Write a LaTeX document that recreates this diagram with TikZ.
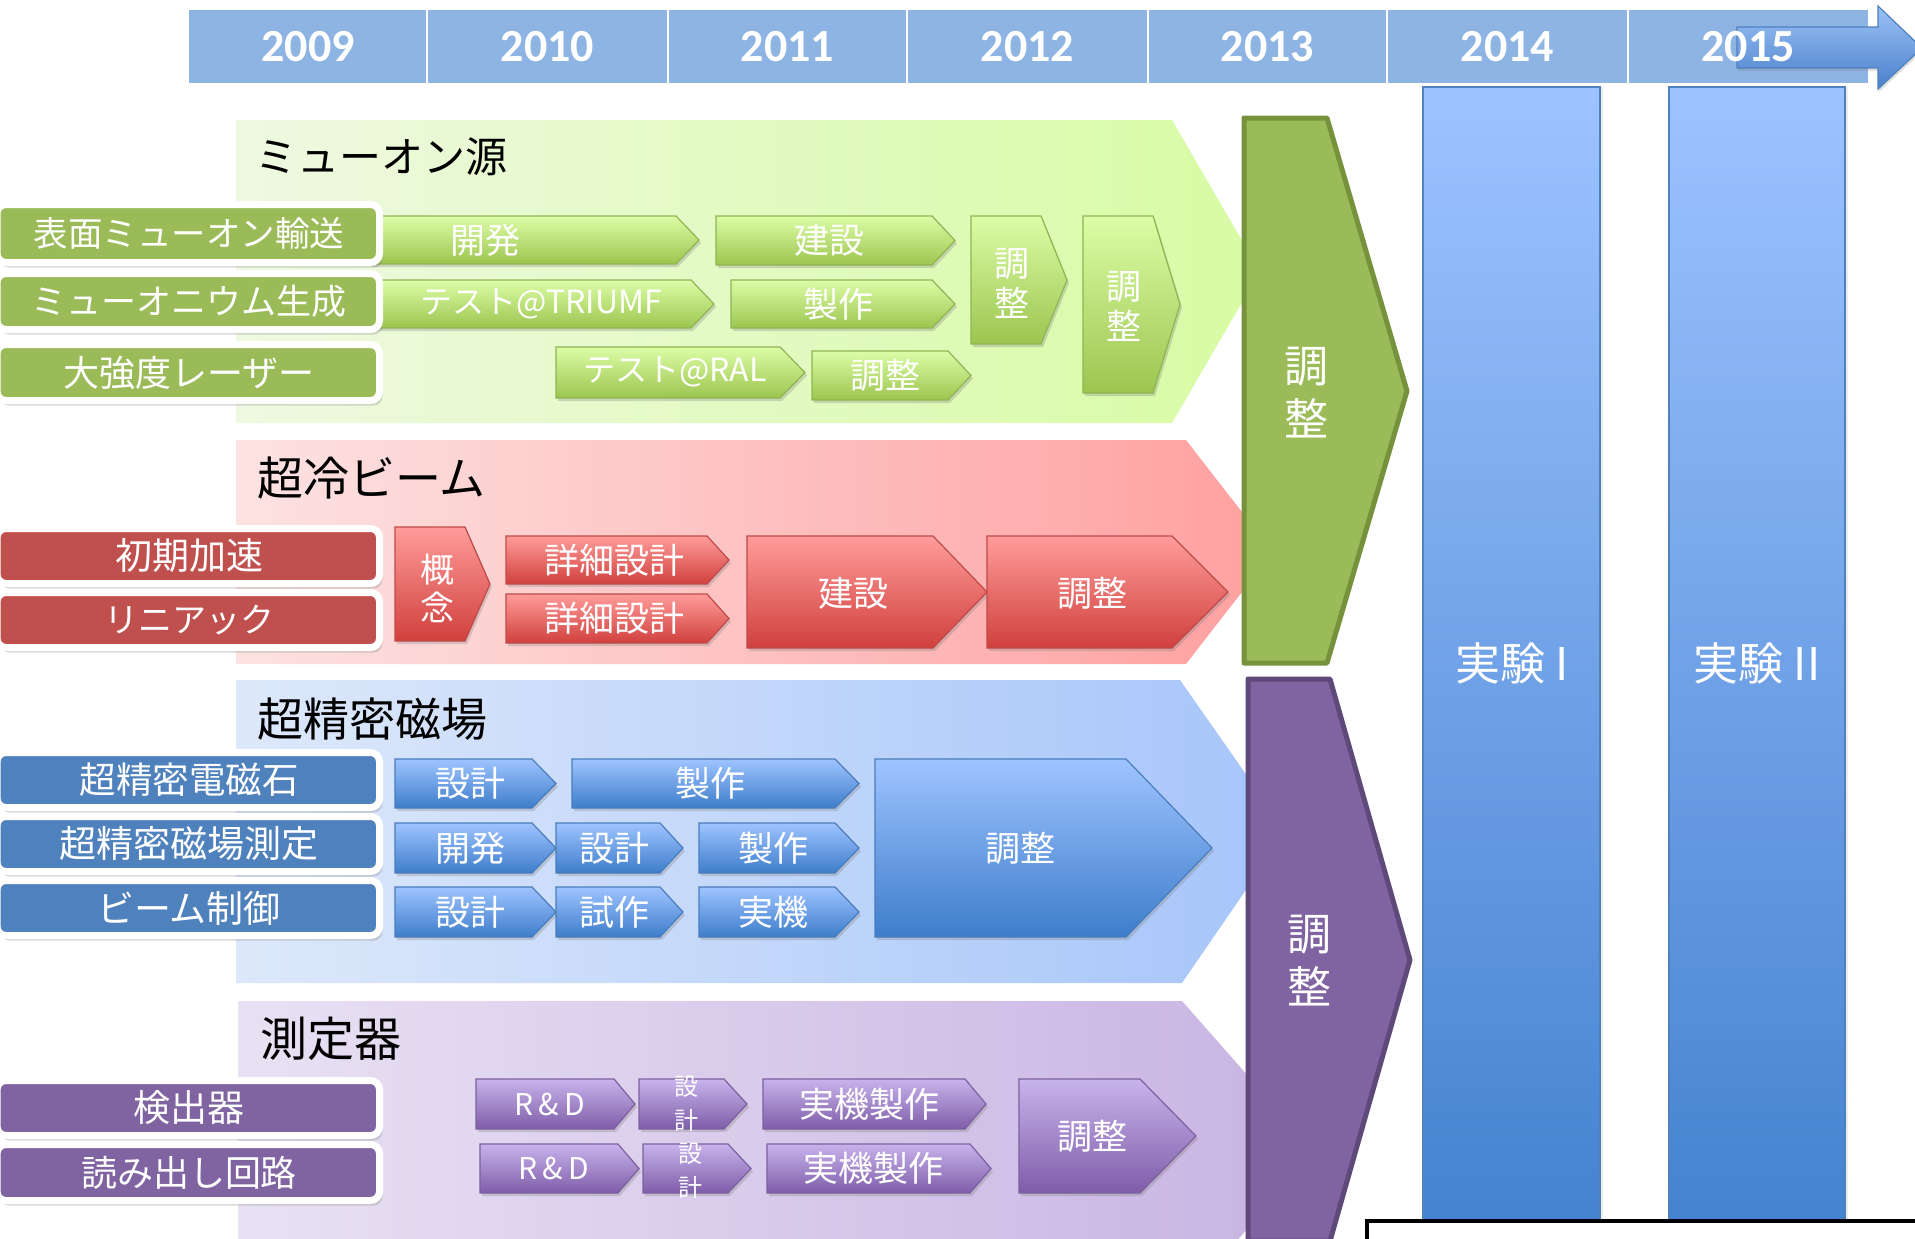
\documentclass[tikz,border=0pt]{standalone}
\usepackage{fontspec}
\setmainfont{Noto Sans CJK JP}
\newfontfamily\yearfont{Carlito}
\usetikzlibrary{shadows}
\definecolor{hdr}{HTML}{8EB4E3}
\definecolor{arrT}{HTML}{9CC2F5}
\definecolor{arrB}{HTML}{4A80CC}
\definecolor{arrD}{HTML}{4F81BD}
\definecolor{bgG1}{HTML}{EEF9E1}
\definecolor{bgG2}{HTML}{D8FBA4}
\definecolor{bgR1}{HTML}{FDE2E2}
\definecolor{bgR2}{HTML}{FFA0A0}
\definecolor{bgB1}{HTML}{DDE8FA}
\definecolor{bgB2}{HTML}{A6C5FA}
\definecolor{bgP1}{HTML}{E8E1F3}
\definecolor{bgP2}{HTML}{C8B3E2}
\definecolor{accG}{HTML}{9BBB59}
\definecolor{accGd}{HTML}{76923C}
\definecolor{accR}{HTML}{C0504D}
\definecolor{accB}{HTML}{4F81BD}
\definecolor{accP}{HTML}{8064A2}
\definecolor{accPd}{HTML}{5F497A}
\definecolor{cG1}{HTML}{DCFDA6}
\definecolor{cG2}{HTML}{9CC54F}
\definecolor{cGb}{HTML}{8FB553}
\definecolor{cR1}{HTML}{FF9C9A}
\definecolor{cR2}{HTML}{D0403D}
\definecolor{cRb}{HTML}{BE4B48}
\definecolor{cB1}{HTML}{9EC4FF}
\definecolor{cB2}{HTML}{3E7DCB}
\definecolor{cBb}{HTML}{4A7DBB}
\definecolor{cP1}{HTML}{C8B3EC}
\definecolor{cP2}{HTML}{7E5DA8}
\definecolor{cPb}{HTML}{7D60A0}
\definecolor{colT}{HTML}{9DC3FF}
\definecolor{colB}{HTML}{4280CF}
\tikzset{
  bandG/.style={left color=bgG1,right color=bgG2},
  bandR/.style={left color=bgR1,right color=bgR2},
  bandB/.style={left color=bgB1,right color=bgB2},
  bandP/.style={left color=bgP1,right color=bgP2},
  chevbase/.style={line width=1.2pt,line join=miter,
    drop shadow={shadow xshift=2pt,shadow yshift=-3pt,opacity=.3}},
  chevG/.style={chevbase,top color=cG1,bottom color=cG2,draw=cGb},
  chevR/.style={chevbase,top color=cR1,bottom color=cR2,draw=cRb},
  chevB/.style={chevbase,top color=cB1,bottom color=cB2,draw=cBb},
  chevP/.style={chevbase,top color=cP1,bottom color=cP2,draw=cPb},
  lblbox/.style={draw=white,line width=7pt,rounded corners=9pt,
    drop shadow={shadow xshift=3pt,shadow yshift=-5pt,opacity=.3}},
  lbltext/.style={text=white,inner sep=0pt},
  tasktext/.style={text=white,font=\fontsize{35}{40}\selectfont,inner sep=0pt,align=center},
  smalltext/.style={text=white,font=\fontsize{24}{34}\selectfont,inner sep=0pt,align=center},
  bigtext/.style={text=white,font=\fontsize{44}{53}\selectfont,inner sep=0pt,align=center},
  titletext/.style={text=black,font=\fontsize{46}{50}\selectfont,inner sep=0pt,anchor=west},
  yeartext/.style={text=white,font=\yearfont\bfseries\fontsize{46}{50}\selectfont,inner sep=0pt},
  bigarrowG/.style={fill=accG,draw=accGd,line width=5pt,line join=round},
  bigarrowP/.style={fill=accP,draw=accPd,line width=5pt,line join=round},
  expcol/.style={top color=colT,bottom color=colB,draw=accB,line width=1.2pt,
    drop shadow={shadow xshift=3pt,shadow yshift=0pt,opacity=.15}},
  toparrow/.style={top color=arrT,bottom color=arrB,draw=arrD,line width=1.2pt,
    drop shadow={shadow xshift=1pt,shadow yshift=-3pt,opacity=.25}},
}
% style, x1, y1, xtip, y2, xhead
\newcommand\chev[6]{\path[#1] (#2,#3) -- (#6,#3) -- (#4,{(#3+#5)/2}) -- (#6,#5) -- (#2,#5) -- cycle;}
% name, colour, y1, y2, text, font size
\newcommand\lbox[6]{\path[lblbox,fill=#2] (-3,{#3-3.5}) rectangle (379.5,{#4+3.5});
  \node[lbltext,font=\fontsize{#6}{#6}\selectfont] (#1) at (189,{(#3+#4)/2}) {#5};}
\begin{document}
\begin{tikzpicture}[x=1pt,y=-1pt]
\clip (0,0) rectangle (1915,1239);
\fill[white] (0,0) rectangle (1915,1239);

% ---------- header ----------
\fill[hdr] (189,10) rectangle (1868,83);
\foreach \s in {427,668,907,1148,1387,1628} \draw[white,line width=2pt] (\s,10) -- (\s,83);
\path[toparrow] (1737,27) -- (1878,27) -- (1878,6) -- (1922,48) -- (1878,89) -- (1878,68) -- (1737,68) -- cycle;
\foreach \yr/\cx [count=\i] in {2009/308,2010/547.5,2011/787.5,2012/1027.5,2013/1267.5,2014/1507.5,2015/1748}
  \node[yeartext] (year\i) at (\cx,47) {\yr};

% ---------- background bands ----------
\path[bandG] (236,120) -- (1172,120) -- (1260,271.5) -- (1172,423) -- (236,423) -- cycle;
\path[bandR] (236,440) -- (1186,440) -- (1273,552) -- (1186,664) -- (236,664) -- cycle;
\path[bandB] (236,680) -- (1180,680) -- (1286,831.5) -- (1182,983) -- (236,983) -- cycle;
\path[bandP] (238,1001) -- (1182,1001) -- (1315,1152) -- (1182,1303) -- (238,1303) -- cycle;

\node[titletext,font=\fontsize{42}{48}\selectfont] (tG) at (255,157) {ミューオン源};
\node[titletext] (tR) at (257,478) {超冷ビーム};
\node[titletext] (tB) at (257,719) {超精密磁場};
\node[titletext,font=\fontsize{47}{50}\selectfont] (tP) at (260,1039) {測定器};

% ---------- big adjustment arrows ----------
\path[bigarrowG] (1244,118) -- (1327,118) -- (1407,391) -- (1327,663) -- (1244,663) -- cycle;
\node[bigtext] (adjG) at (1306,393) {調\\整};
\path[bigarrowP] (1248,679) -- (1330,679) -- (1410,960) -- (1330,1241) -- (1248,1241) -- cycle;
\node[bigtext] (adjP) at (1309,961) {調\\整};

% ---------- experiment columns ----------
\path[expcol] (1423,87) rectangle (1600,1260);
\path[expcol] (1669,87) rectangle (1845,1260);
\node[bigtext,font=\fontsize{45}{50}\selectfont] (exp1) at (1512,663) {実験 I};
\node[bigtext,font=\fontsize{45}{50}\selectfont] (exp2) at (1757,663) {実験 II};

% ---------- muon source (green) ----------
\chev{chevG}{370}{216}{699}{264}{676}
\node[tasktext] (g1) at (485,240) {開発};
\chev{chevG}{716}{216}{955}{265}{932}
\node[tasktext] (g2) at (829,240) {建設};
\chev{chevG}{370}{280}{714}{328}{691}
\node[tasktext,font=\fontsize{32}{36}\selectfont] (g3) at (541,304) {テスト@TRIUMF};
\chev{chevG}{731}{280}{955}{328}{932}
\node[tasktext] (g4) at (838,304) {製作};
\chev{chevG}{556}{347}{805}{398}{780}
\node[tasktext,font=\fontsize{32}{36}\selectfont] (g5) at (675,372) {テスト@RAL};
\chev{chevG}{812}{351}{971}{400}{948}
\node[tasktext] (g6) at (885,375) {調整};
\chev{chevG}{971}{216}{1067}{344}{1041}
\node[tasktext] (g7) at (1012,283) {調\\整};
\chev{chevG}{1083}{216}{1180}{393}{1153}
\node[tasktext] (g8) at (1124,306) {調\\整};

\lbox{lG1}{accG}{208}{259}{表面ミューオン輸送}{34.5}
\lbox{lG2}{accG}{277}{326}{ミューオニウム生成}{35}
\lbox{lG3}{accG}{348}{397}{大強度レーザー}{36}

% ---------- ultra-cold beam (red) ----------
\chev{chevR}{395}{527}{490}{641}{465}
\node[tasktext,font=\fontsize{34}{38}\selectfont] (r1) at (437,588) {概\\念};
\chev{chevR}{506}{536}{729}{584}{707}
\node[tasktext] (r2) at (614,560) {詳細設計};
\chev{chevR}{506}{594}{729}{643}{707}
\node[tasktext] (r3) at (614,618) {詳細設計};
\chev{chevR}{747}{536}{987}{648}{933}
\node[tasktext] (r4) at (853,593) {建設};
\chev{chevR}{987}{536}{1228}{648}{1172}
\node[tasktext] (r5) at (1092,593) {調整};

\lbox{lR1}{accR}{532}{580}{初期加速}{37}
\lbox{lR2}{accR}{596}{644}{リニアック}{34}

% ---------- precision field (blue) ----------
\chev{chevB}{395}{759}{556}{808}{532}
\node[tasktext] (b1) at (470,783) {設計};
\chev{chevB}{572}{759}{859}{808}{835}
\node[tasktext] (b2) at (710,783) {製作};
\chev{chevB}{395}{823}{556}{873}{532}
\node[tasktext] (b3) at (470,848) {開発};
\chev{chevB}{556}{823}{683}{873}{660}
\node[tasktext] (b4) at (614,848) {設計};
\chev{chevB}{699}{823}{859}{873}{835}
\node[tasktext] (b5) at (773,848) {製作};
\chev{chevB}{395}{887}{556}{937}{532}
\node[tasktext] (b6) at (470,912) {設計};
\chev{chevB}{556}{887}{683}{937}{660}
\node[tasktext] (b7) at (614,912) {試作};
\chev{chevB}{699}{887}{859}{937}{835}
\node[tasktext] (b8) at (773,912) {実機};
\chev{chevB}{875}{759}{1212}{937}{1126}
\node[tasktext] (b9) at (1020,848) {調整};

\lbox{lB1}{accB}{756}{804}{超精密電磁石}{36.5}
\lbox{lB2}{accB}{820}{868}{超精密磁場測定}{37}
\lbox{lB3}{accB}{884}{932}{ビーム制御}{37}

% ---------- detectors (purple) ----------
\chev{chevP}{476}{1079}{635}{1129}{614}
\node[tasktext,font=\fontsize{30}{34}\selectfont] (p1) at (550,1104) {R\hspace{5pt}\&\hspace{5pt}D};
\chev{chevP}{639}{1079}{747}{1129}{724}
\node[smalltext] (p2) at (686,1104) {設\\計};
\chev{chevP}{763}{1079}{986}{1129}{965}
\node[tasktext] (p3) at (869,1104) {実機製作};
\chev{chevP}{480}{1144}{639}{1193}{618}
\node[tasktext,font=\fontsize{30}{34}\selectfont] (p4) at (554,1168) {R\hspace{5pt}\&\hspace{5pt}D};
\chev{chevP}{643}{1144}{751}{1193}{728}
\node[smalltext] (p5) at (690,1171) {設\\計};
\chev{chevP}{767}{1144}{991}{1193}{970}
\node[tasktext] (p6) at (873,1168) {実機製作};
\chev{chevP}{1019}{1079}{1196}{1193}{1140}
\node[tasktext] (p7) at (1092,1136) {調整};

\lbox{lP1}{accP}{1084}{1132}{検出器}{37}
\lbox{lP2}{accP}{1148}{1197}{読み出し回路}{36}

% ---------- bottom-right box ----------
\path[fill=white,draw=black,line width=4pt] (1367,1221) rectangle (1940,1280);
\end{tikzpicture}
\end{document}
